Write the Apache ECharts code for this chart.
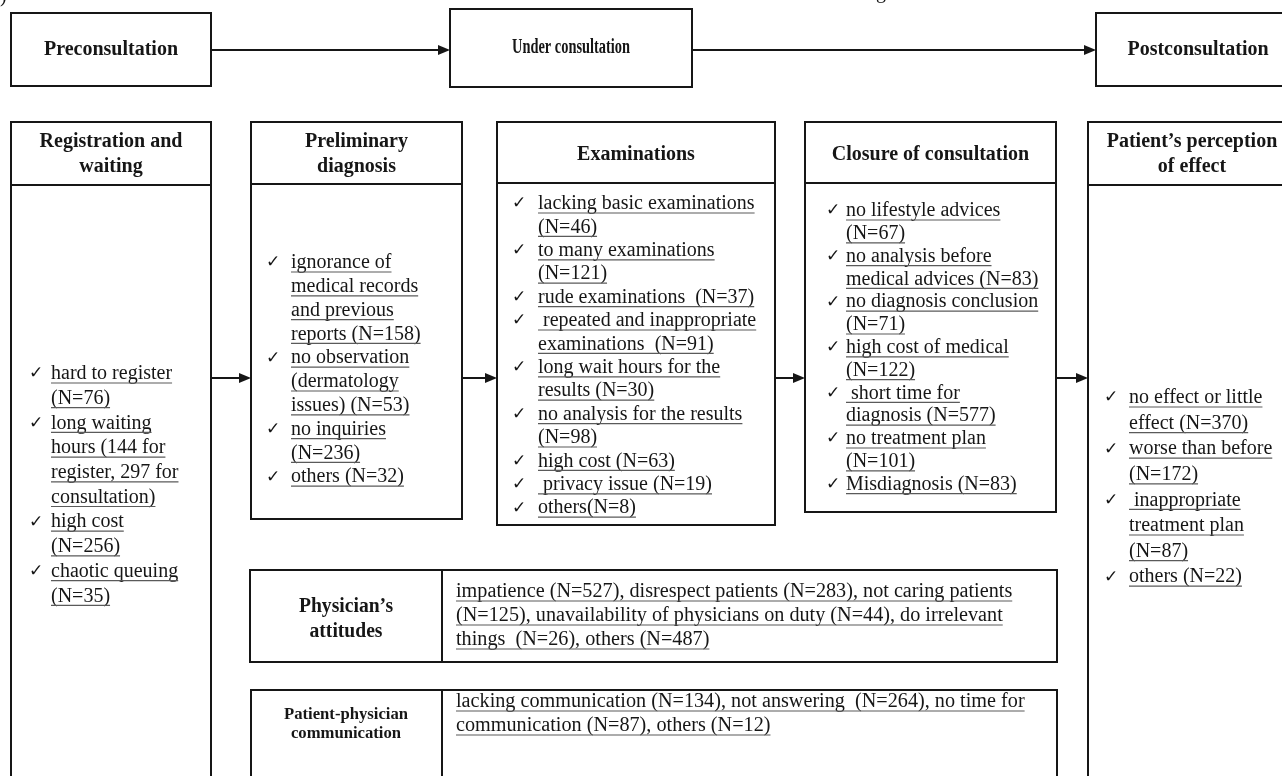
<!DOCTYPE html>
<html>
<head>
<meta charset="utf-8">
<script src="https://cdn.jsdelivr.net/npm/echarts@6/dist/echarts.min.js"></script>
<style>
html, body { margin: 0; padding: 0; background: #fff; }
#main { width: 1282px; height: 776px; }
</style>
</head>
<body>
<div id="main"></div>
<script>
// stage titles (top row)
var stages = ['Preconsultation', 'Under consultation', 'Postconsultation'];

// panel headers (second row)
var panelTitles = [
	['Registration and', 'waiting'],
	['Preliminary', 'diagnosis'],
	['Examinations'],
	['Closure of consultation'],
	['Patient\u2019s perception', 'of effect']
];

// each item = the wrapped lines of one ticked entry
var registrationItems = [
	['hard to register', '(N=76)'],
	['long waiting', 'hours (144 for', 'register, 297 for', 'consultation)'],
	['high cost', '(N=256)'],
	['chaotic queuing', '(N=35)']
];
var diagnosisItems = [
	['ignorance of', 'medical records', 'and previous', 'reports (N=158)'],
	['no observation', '(dermatology', 'issues) (N=53)'],
	['no inquiries', '(N=236)'],
	['others (N=32)']
];
var examinationItems = [
	['lacking basic examinations', '(N=46)'],
	['to many examinations', '(N=121)'],
	['rude examinations  (N=37)'],
	[' repeated and inappropriate', 'examinations  (N=91)'],
	['long wait hours for the', 'results (N=30)'],
	['no analysis for the results', '(N=98)'],
	['high cost (N=63)'],
	[' privacy issue (N=19)'],
	['others(N=8)']
];
var closureItems = [
	['no lifestyle advices', '(N=67)'],
	['no analysis before', 'medical advices (N=83)'],
	['no diagnosis conclusion', '(N=71)'],
	['high cost of medical', '(N=122)'],
	[' short time for', 'diagnosis (N=577)'],
	['no treatment plan', '(N=101)'],
	['Misdiagnosis (N=83)']
];
var effectItems = [
	['no effect or little', 'effect (N=370)'],
	['worse than before', '(N=172)'],
	[' inappropriate', 'treatment plan', '(N=87)'],
	['others (N=22)']
];

// bottom strips
var attitudeTitle = ['Physician\u2019s', 'attitudes'];
var attitudeLines = [
	'impatience (N=527), disrespect patients (N=283), not caring patients',
	'(N=125), unavailability of physicians on duty (N=44), do irrelevant',
	'things  (N=26), others (N=487)'
];
var communicationTitle = ['Patient-physician', 'communication'];
var communicationLines = [
	'lacking communication (N=134), not answering  (N=264), no time for',
	'communication (N=87), others (N=12)'
];

var SERIF = '"Liberation Serif", "Times New Roman", serif';
var INK = '#161616';

var _measure = document.createElement('canvas').getContext('2d');
function textWidth(s, font) {
	_measure.font = font;
	return _measure.measureText(s).width;
}

var els = [];

function box(x, y, w, h) {
	els.push({
		type : 'rect',
		shape : { x : x, y : y, width : w, height : h },
		style : { fill : '#fff', stroke : INK, lineWidth : 2 }
	});
}

function seg(x1, y1, x2, y2, lw, color) {
	els.push({
		type : 'line',
		shape : { x1 : x1, y1 : y1, x2 : x2, y2 : y2 },
		style : { stroke : color || INK, lineWidth : lw || 2 }
	});
}

function arrow(x1, x2, y) {
	seg(x1, y, x2 - 8, y, 2);
	els.push({
		type : 'polygon',
		shape : { points : [[x2 - 12, y - 5], [x2, y], [x2 - 12, y + 5]] },
		style : { fill : INK }
	});
}

function label(s, x, y, size, bold, align, sx) {
	els.push({
		type : 'text',
		x : x,
		y : y,
		scaleX : sx || 1,
		style : {
			text : s,
			font : (bold ? 'bold ' : '') + size + 'px ' + SERIF,
			fill : INK,
			align : align || 'center',
			verticalAlign : 'middle'
		}
	});
}

function underlined(s, x, y, size, sx) {
	sx = sx || 1;
	label(s, x, y, size, false, 'left', sx);
	var w = textWidth(s, size + 'px ' + SERIF) * sx;
	seg(x, y + size * 0.45, x + w, y + size * 0.45, 1.2, '#5a5a5a');
}

function title(lines, cx, cy, size, sx) {
	var top = cy - (lines.length - 1) * 12.5;
	for (var i = 0; i < lines.length; i++) {
		label(lines[i], cx, top + i * 25, size || 20, true, 'center', sx);
	}
}

// ticked list, first line centred at y0
function list(items, checkX, textX, y0, lh) {
	var y = y0;
	for (var i = 0; i < items.length; i++) {
		els.push({
			type : 'text',
			x : checkX,
			y : y,
			style : {
				text : '\u2713',
				font : '17px "DejaVu Sans"',
				fill : INK,
				align : 'left',
				verticalAlign : 'middle'
			}
		});
		for (var j = 0; j < items[i].length; j++) {
			underlined(items[i][j], textX, y, 20);
			y += lh;
		}
	}
}

// clipped remains of the caption above the figure
label(')', 0, -3, 20, false, 'left');
label('g', 876, -7, 20, false, 'left');

// ---- top row
box(11, 13, 200, 73);
box(450, 9, 242, 78);
box(1096, 13, 210, 73);
title([stages[0]], 111, 50);
title([stages[1]], 571, 48, 20, 0.72);
title([stages[2]], 1198, 50);
arrow(211, 450, 50);
arrow(692, 1096, 50);

// ---- panels
var panels = [
	{ x : 11, w : 200, bottom : 800, head : 185, items : registrationItems, cx : 29, tx : 51, y0 : 374, lh : 24.7 },
	{ x : 251, w : 211, bottom : 519, head : 184, items : diagnosisItems, cx : 266, tx : 291, y0 : 263, lh : 23.8 },
	{ x : 497, w : 278, bottom : 525, head : 183, items : examinationItems, cx : 512, tx : 538, y0 : 204, lh : 23.4 },
	{ x : 805, w : 251, bottom : 512, head : 183, items : closureItems, cx : 826, tx : 846, y0 : 211, lh : 22.8 },
	{ x : 1088, w : 220, bottom : 800, head : 185, items : effectItems, cx : 1104, tx : 1129, y0 : 398, lh : 25.6 }
];
for (var p = 0; p < panels.length; p++) {
	var pn = panels[p];
	box(pn.x, 122, pn.w, pn.bottom - 122);
	seg(pn.x, pn.head, pn.x + pn.w, pn.head, 2);
	var cxTitle = p == 4 ? 1192 : pn.x + pn.w / 2;
	title(panelTitles[p], cxTitle, 154.5);
	list(pn.items, pn.cx, pn.tx, pn.y0, pn.lh);
	if (p > 0) {
		var prev = panels[p - 1];
		arrow(prev.x + prev.w, pn.x, 378);
	}
}

// ---- bottom strips
box(250, 570, 807, 92);
seg(442, 570, 442, 662, 2);
title(attitudeTitle, 346, 619, 20, 0.98);
for (var a = 0; a < attitudeLines.length; a++) {
	underlined(attitudeLines[a], 456, 592 + a * 24, 20, 1.01);
}

box(251, 690, 806, 110);
seg(442, 690, 442, 800, 2);
for (var c = 0; c < communicationTitle.length; c++) {
	label(communicationTitle[c], 346, 715 + c * 19, 17, true, 'center', 0.98);
}
for (var d = 0; d < communicationLines.length; d++) {
	underlined(communicationLines[d], 456, 702 + d * 24, 20, 1.01);
}

var chart = echarts.init(document.getElementById('main'), null, { renderer : 'canvas' });
chart.setOption({
	backgroundColor : '#fff',
	animation : false,
	graphic : { elements : els }
});
</script>
</body>
</html>
